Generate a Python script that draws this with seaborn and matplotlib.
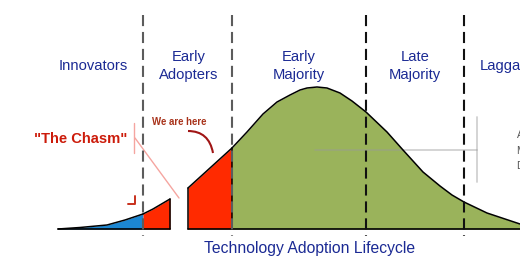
import numpy as np
import pandas as pd
import matplotlib
matplotlib.use('Agg')
import matplotlib.pyplot as plt
from matplotlib.path import Path
from matplotlib.patches import PathPatch
import seaborn as sns

# ---- data (position along lifecycle, curve height) ----
innov_x = [58, 80, 107, 125, 143]
innov_h = [0, 1.5, 4, 9, 15]
early_a_x = [143, 153, 170]
early_a_h = [15, 20, 30]
early_b_x = [188, 210, 232]
early_b_h = [41, 61, 81]
major_x = [232, 247, 263, 277, 290, 300, 307, 317, 327, 340, 352, 366, 387, 403, 423, 440, 452, 464, 487, 520]
major_h = [81, 97, 115, 127, 134, 139, 141, 142, 141, 136, 128, 117, 97, 79, 57, 43, 34, 27, 16, 5]

boundaries = [143, 232, 366, 464]
boundary_colors = ['#5c5c5c', '#5c5c5c', '#111111', '#111111']

segment_labels = ['Innovators', 'Early\nAdopters', 'Early\nMajority', 'Late\nMajority', 'Laggards']
segment_label_x = [93, 189, 299, 415, 480]
axis_title = 'Technology Adoption Lifecycle'

BASE = 229  # baseline pixel row
def h(ypx):
    return BASE - ypx

sns.set_theme(style='white')
plt.rcParams['font.family'] = ['Liberation Sans', 'DejaVu Sans']
plt.rcParams['lines.scale_dashes'] = False

fig = plt.figure(figsize=(5.2, 2.72), dpi=100)
ax = fig.add_axes([0, 0, 1, 1])
ax.set_xlim(0, 520)
ax.set_ylim(h(272), h(0))
ax.axis('off')

segs = [
    (innov_x, innov_h, '#1c87d2'),
    (early_a_x, early_a_h, '#ff2a00'),
    (early_b_x, early_b_h, '#ff2a00'),
    (major_x, major_h, '#9ab35b'),
]
for xs, hs, col in segs:
    ax.fill_between(xs, 0, hs, color=col, lw=0, zorder=1)

# light gray guide lines (partly over the fill)
ax.plot([315, 477], [h(150), h(150)], color='#999999', alpha=0.45, lw=1.3, zorder=2)
ax.plot([477, 477], [h(117), h(182)], color='#999999', alpha=0.45, lw=1.3, zorder=2)

# curve outlines
for xs, hs, col in segs:
    df = pd.DataFrame({'x': xs, 'h': hs})
    sns.lineplot(data=df, x='x', y='h', color='black', lw=1.1, sort=False,
                 estimator=None, ax=ax, zorder=3)
# vertical edges of the chasm pieces and red/green boundary
ax.plot([early_a_x[-1]] * 2, [0, early_a_h[-1]], color='black', lw=1.1, zorder=3)
ax.plot([early_b_x[0]] * 2, [0, early_b_h[0]], color='black', lw=1.1, zorder=3)
ax.plot([early_b_x[-1]] * 2, [0, early_b_h[-1]], color='black', lw=1.1, zorder=3)
# baseline (broken at the chasm)
ax.plot([innov_x[0], early_a_x[-1]], [0, 0], color='black', lw=1.2, zorder=3)
ax.plot([early_b_x[0], 520], [0, 0], color='black', lw=1.2, zorder=3)

# dashed segment boundaries
for bx, bc in zip(boundaries, boundary_colors):
    ax.plot([bx, bx], [h(15), h(236)], color=bc, lw=1.5,
            linestyle=(0, (8.0, 4.2)), zorder=4)

# labels
text_blue = '#1b2a94'
for lab, lx in zip(segment_labels, segment_label_x):
    if '\n' in lab:
        l1, l2 = lab.split('\n')
        ax.text(lx, h(61), l1, ha='center', va='baseline', fontsize=10.6, color=text_blue)
        ax.text(lx, h(79), l2, ha='center', va='baseline', fontsize=10.6, color=text_blue)
    else:
        ha = 'left' if lab == 'Laggards' else 'center'
        ax.text(lx, h(70), lab, ha=ha, va='baseline', fontsize=10.6, color=text_blue)

ax.text(310, h(252.5), axis_title, ha='center', va='baseline', fontsize=11.3, color=text_blue)

# chasm annotation
ax.text(81, h(143), '"The Chasm"', ha='center', va='baseline', fontsize=10.6,
        fontweight='bold', color='#cc1b0a')
ax.plot([134, 134], [h(123), h(153)], color='#f5a5a0', lw=1.0, zorder=2)
ax.plot([135, 179], [h(138), h(198)], color='#f5a5a0', lw=1.0, zorder=2)
ax.plot([134.5, 134.5, 128], [h(196), h(203.5), h(203.5)], color='#c8301c', lw=1.4, zorder=2)

# "We are here" pointer
ax.text(179, h(125), 'We are here', ha='center', va='baseline', fontsize=6.9,
        fontweight='bold', color='#a8321a')
arc = Path([(188, h(131)), (209, h(131)), (213, h(153))],
           [Path.MOVETO, Path.CURVE3, Path.CURVE3])
ax.add_patch(PathPatch(arc, facecolor='none', edgecolor='#a01515', lw=1.5, zorder=5))

# cut-off text at right edge (as in the reference)
for t, yy in zip(['A', 'M', 'D'], [138, 154, 169]):
    ax.text(516.5, h(yy), t, ha='left', va='baseline', fontsize=7.5, color='#555555')

fig.savefig('out.png', dpi=100)
